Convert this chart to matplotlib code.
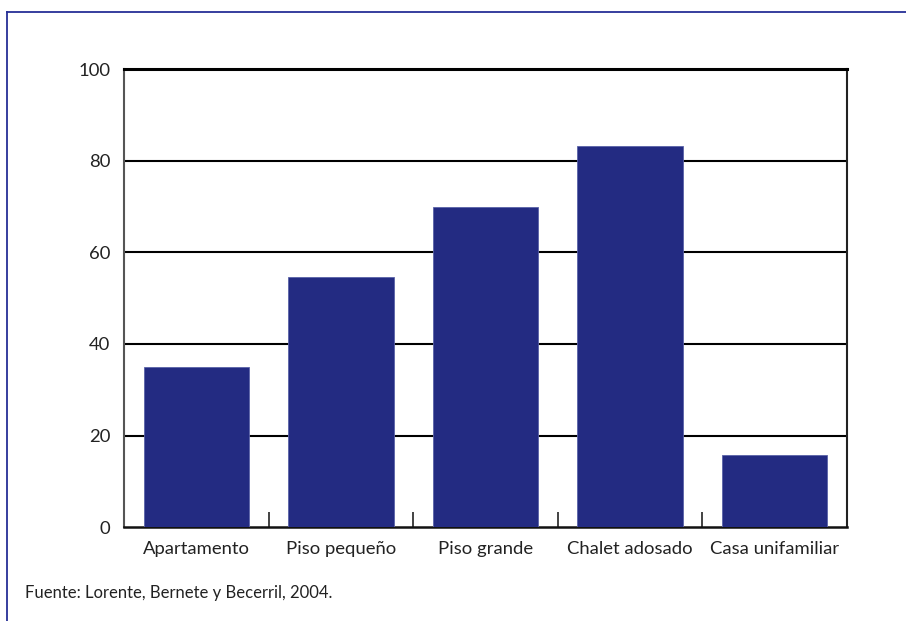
import matplotlib
matplotlib.use("Agg")
import matplotlib.pyplot as plt
from matplotlib.lines import Line2D
import numpy as np

categories = ["Apartamento", "Piso pequeño", "Piso grande", "Chalet adosado", "Casa unifamiliar"]
values = [35.0, 54.7, 69.8, 83.1, 15.8]
yticks = [0, 20, 40, 60, 80, 100]
source = "Fuente: Lorente, Bernete y Becerril, 2004."

plt.rcParams['font.family'] = ['Lato', 'DejaVu Sans']

W, H = 906, 621
fig = plt.figure(figsize=(W/100, H/100), dpi=100)
ax = fig.add_axes([124/W, 1-527.3/H, (847-124)/W, (527.3-69)/H])

x = np.arange(len(categories))
ax.bar(x, values, width=0.73, color="#232B82", edgecolor="#5A62A8", linewidth=0.6, zorder=3)
ax.set_xlim(-0.5, len(categories)-0.5)
ax.set_ylim(0, 100)
ax.set_yticks(yticks)
ax.set_yticklabels([str(v) for v in yticks], fontsize=13.3, color="#222222")
ax.tick_params(axis='y', length=0, pad=10)
for v in yticks[1:-1]:
    ax.axhline(v, color="black", linewidth=1.5, zorder=2)

ax.set_xticks(x)
ax.set_xticklabels(categories, fontsize=13.3, color="#222222")
ax.tick_params(axis='x', length=0, pad=10)
# boundary ticks
ax.set_xticks(np.arange(len(categories)+1) - 0.5, minor=True)
ax.tick_params(axis='x', which='minor', direction='in', length=11, width=1.2, color="#222222")

ax.spines['top'].set_linewidth(2.2)
ax.spines['top'].set_color("black")
ax.spines['bottom'].set_linewidth(1.8)
ax.spines['bottom'].set_color("#111111")
ax.spines['left'].set_linewidth(1.5)
ax.spines['left'].set_color("#555555")
ax.spines['right'].set_linewidth(1.5)
ax.spines['right'].set_color("#222222")

fig.text(25/W, 1-593/H, source, fontsize=12, color="#222222", va='center', ha='left')

# outer frame (top and left)
fig.add_artist(Line2D([7/W, 1.0], [1-12/H, 1-12/H], color="#262F96", linewidth=1.3, transform=fig.transFigure))
fig.add_artist(Line2D([7/W, 7/W], [0, 1-12/H], color="#262F96", linewidth=1.3, transform=fig.transFigure))

fig.savefig("out.png", dpi=100)
